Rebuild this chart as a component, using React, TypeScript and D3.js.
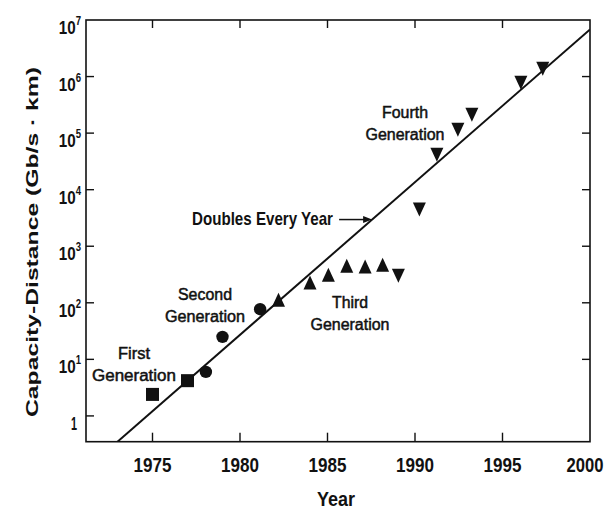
import React from "react";
import * as d3 from "d3";

// Capacity-distance product of lightwave systems by generation
const firstGenYears = [1975, 1977];
const firstGenValues = [2.4, 4.2];
const secondGenYears = [1978.05, 1979, 1981.15];
const secondGenValues = [6, 25, 77];
const thirdGenYears = [1982.2, 1984, 1985.05, 1986.1, 1987.15, 1988.15];
const thirdGenValues = [113, 229, 314, 450, 440, 470];
const fourthGenYears = [1989.05, 1990.25, 1991.25, 1992.45, 1993.25, 1996.05, 1997.3];
const fourthGenValues = [300, 4460, 41600, 115000, 212000, 775000, 1370000];

// Trend line end points (year, capacity-distance)
const trendYears = [1973, 2000];
const trendValues = [0.35, 6.8e6];

const xTickYears = [1975, 1980, 1985, 1990, 1995, 2000];
const yTickExponents = [0, 1, 2, 3, 4, 5, 6, 7];

const W = 610;
const H = 512;
const left = 86;
const right = 590;
const top = 20;
const bottom = 441.7;
const FONT = "'Liberation Sans', Arial, Helvetica, sans-serif";
const INK = "#111";

const x = d3.scaleLinear().domain([1971.2, 2000]).range([left, right]);
const y = d3.scaleLog().domain([0.35, 1e7]).range([bottom, top]);

function zip(xs: number[], vs: number[]) {
  return xs.map((yr, i) => ({ year: yr, value: vs[i] }));
}

function triPath(cx: number, cy: number, up: boolean, w = 13, h = 13) {
  const t = cy - h / 2;
  const b = cy + h / 2;
  return up
    ? `M${cx - w / 2},${b}L${cx + w / 2},${b}L${cx},${t}Z`
    : `M${cx - w / 2},${t}L${cx + w / 2},${t}L${cx},${b}Z`;
}

function GenLabel({ cx, y1, lines, widths }: { cx: number; y1: number; lines: string[]; widths: number[] }) {
  return (
    <g>
      {lines.map((s, i) => (
        <text
          key={i}
          x={cx}
          y={y1 + i * 22}
          textAnchor="middle"
          fontFamily={FONT}
          fontSize={16}
          fill={INK}
          stroke={INK}
          strokeWidth={0.5}
          textLength={widths[i]}
          lengthAdjust="spacingAndGlyphs"
        >
          {s}
        </text>
      ))}
    </g>
  );
}

export default function App() {
  const first = zip(firstGenYears, firstGenValues);
  const second = zip(secondGenYears, secondGenValues);
  const third = zip(thirdGenYears, thirdGenValues);
  const fourth = zip(fourthGenYears, fourthGenValues);
  const trend = zip(trendYears, trendValues);

  const line = d3
    .line<{ year: number; value: number }>()
    .x((d) => x(d.year))
    .y((d) => y(d.value));

  // arrow tip sits on the trend line
  const slope =
    (Math.log10(trendValues[1]) - Math.log10(trendValues[0])) / (trendYears[1] - trendYears[0]);
  const tipYear = 1987.55;
  const tipVal = Math.pow(10, Math.log10(trendValues[0]) + slope * (tipYear - trendYears[0]));
  const tipX = x(tipYear);
  const tipY = y(tipVal);

  return (
    <svg
      width={W}
      height={H}
      style={{ position: "absolute", left: 0, top: 0, background: "#fff" }}
    >
      <defs>
        <clipPath id="plotArea">
          <rect x={left} y={top} width={right - left} height={bottom - top} />
        </clipPath>
      </defs>
      <rect width={W} height={H} fill="#fff" />

      {/* frame */}
      <rect
        x={left}
        y={top}
        width={right - left}
        height={bottom - top}
        fill="none"
        stroke={INK}
        strokeWidth={1.6}
      />

      {/* x ticks, bottom and top, pointing inward */}
      {xTickYears
        .filter((v) => v < 2000)
        .map((v) => (
          <g key={v}>
            <line x1={x(v)} x2={x(v)} y1={bottom} y2={bottom - 9} stroke={INK} strokeWidth={1.4} />
            <line x1={x(v)} x2={x(v)} y1={top} y2={top + 8} stroke={INK} strokeWidth={1.4} />
          </g>
        ))}
      {xTickYears.map((v) => (
        <text
          key={v}
          x={v === 2000 ? x(v) - 5 : x(v)}
          y={472}
          textAnchor="middle"
          fontFamily={FONT}
          fontWeight="bold"
          fontSize={20}
          fill={INK}
          textLength={v === 2000 ? 37 : 38}
          lengthAdjust="spacingAndGlyphs"
        >
          {v}
        </text>
      ))}

      {/* y ticks, left and right */}
      {yTickExponents
        .filter((e) => e < 7)
        .map((e) => {
          const yy = y(Math.pow(10, e));
          return (
            <g key={e}>
              <line x1={left} x2={left + 8} y1={yy} y2={yy} stroke={INK} strokeWidth={1.4} />
              {e > 0 && (
                <line x1={right} x2={right - 8} y1={yy} y2={yy} stroke={INK} strokeWidth={1.4} />
              )}
            </g>
          );
        })}
      {yTickExponents.map((e) => {
        const yy = y(Math.pow(10, e));
        if (e === 0) {
          return (
            <text
              key={e}
              x={77}
              y={yy + 14}
              textAnchor="end"
              fontFamily={FONT}
              fontWeight="bold"
              fontSize={19}
              fill={INK}
              textLength={6}
              lengthAdjust="spacingAndGlyphs"
            >
              1
            </text>
          );
        }
        return (
          <g key={e} transform={`translate(81,${yy + 14}) scale(0.8,1)`}>
            <text
              x={0}
              y={0}
              textAnchor="end"
              fontFamily={FONT}
              fontWeight="bold"
              fontSize={19}
              fill={INK}
            >
              10
              <tspan dy={-9} fontSize={12}>
                {e}
              </tspan>
            </text>
          </g>
        );
      })}

      {/* axis titles */}
      <text
        x={336}
        y={506}
        textAnchor="middle"
        fontFamily={FONT}
        fontWeight="bold"
        fontSize={21}
        fill={INK}
        textLength={38}
        lengthAdjust="spacingAndGlyphs"
      >
        Year
      </text>
      <text
        transform={`translate(38,242) rotate(-90)`}
        textAnchor="middle"
        fontFamily={FONT}
        fontWeight="bold"
        fontSize={17}
        fill={INK}
        textLength={350}
        lengthAdjust="spacingAndGlyphs"
      >
        Capacity-Distance (Gb/s · km)
      </text>

      {/* trend line */}
      <path
        d={line(trend) ?? ""}
        fill="none"
        stroke={INK}
        strokeWidth={2}
        clipPath="url(#plotArea)"
      />

      {/* data markers */}
      {first.map((d, i) => (
        <rect key={"f" + i} x={x(d.year) - 6.5} y={y(d.value) - 6.5} width={13} height={13} fill={INK} />
      ))}
      {second.map((d, i) => (
        <circle key={"s" + i} cx={x(d.year)} cy={y(d.value)} r={6.2} fill={INK} />
      ))}
      {third.map((d, i) => (
        <path key={"t" + i} d={triPath(x(d.year), y(d.value), true, 13, 14)} fill={INK} />
      ))}
      {fourth.map((d, i) => (
        <path key={"q" + i} d={triPath(x(d.year), y(d.value), false, 13, 14)} fill={INK} />
      ))}

      {/* annotations */}
      <GenLabel cx={134} y1={359} lines={["First", "Generation"]} widths={[32, 84]} />
      <GenLabel cx={205} y1={300} lines={["Second", "Generation"]} widths={[54, 80]} />
      <GenLabel cx={350} y1={307.5} lines={["Third", "Generation"]} widths={[36, 79]} />
      <GenLabel cx={405} y1={118} lines={["Fourth", "Generation"]} widths={[46, 79]} />

      <text
        x={192}
        y={225}
        fontFamily={FONT}
        fontWeight="bold"
        fontSize={19}
        fill={INK}
        textLength={141}
        lengthAdjust="spacingAndGlyphs"
      >
        Doubles Every Year
      </text>
      <line x1={tipX - 33} x2={tipX - 7} y1={tipY} y2={tipY} stroke={INK} strokeWidth={1.5} />
      <path d={`M${tipX},${tipY}L${tipX - 9},${tipY - 3.5}L${tipX - 9},${tipY + 3.5}Z`} fill={INK} />
    </svg>
  );
}
